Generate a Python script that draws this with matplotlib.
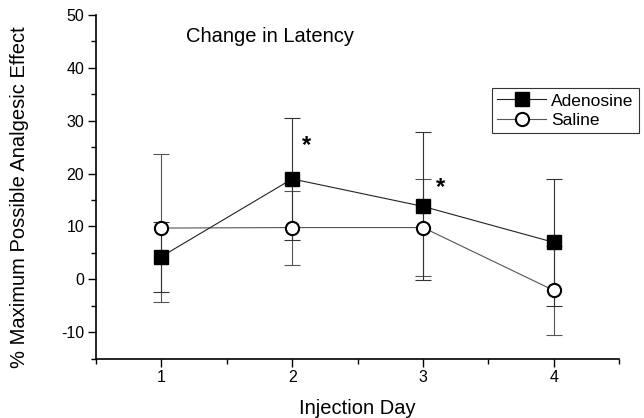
import matplotlib
matplotlib.use("Agg")
import matplotlib.pyplot as plt
from matplotlib.ticker import MultipleLocator

plt.rcParams['font.family'] = ['Liberation Sans', 'DejaVu Sans']
plt.rcParams['axes.unicode_minus'] = False

days = [1, 2, 3, 4]
adenosine = [4.3, 19.0, 13.8, 7.0]
adenosine_err = [6.6, 11.5, 14.0, 12.0]
saline = [9.7, 9.8, 9.8, -2.1]
saline_err = [14.0, 7.0, 9.2, 8.4]
star_x = [2.11, 3.13]
star_y = [25.3, 17.3]

fig = plt.figure(figsize=(6.44, 4.18), dpi=100)
ax = fig.add_axes([0.149, 0.142, 0.8126, 0.822])

ax.errorbar(days, saline, yerr=saline_err, fmt='none', ecolor='#555555',
            elinewidth=0.8, capsize=5.5, capthick=0.8, zorder=1)
ax.errorbar(days, adenosine, yerr=adenosine_err, fmt='none', ecolor='#333333',
            elinewidth=0.8, capsize=5.5, capthick=0.8, zorder=1)
ax.plot(days, saline, '-', color='#555555', lw=0.8, marker='o', ms=9.5,
        mfc='white', mec='black', mew=1.5, label='Saline', zorder=3)
ax.plot(days, adenosine, '-', color='#222222', lw=0.8, marker='s', ms=9.5,
        mfc='black', mec='black', label='Adenosine', zorder=4)

for x, y in zip(star_x, star_y):
    ax.text(x, y, '*', fontsize=17, ha='center', va='center', fontweight='bold')

ax.text(1.19, 45.9, 'Change in Latency', fontsize=14.5, ha='left', va='center')

ax.set_xlim(0.5, 4.5)
ax.set_ylim(-15, 50)
ax.set_xticks(days)
ax.xaxis.set_minor_locator(MultipleLocator(0.5))
ax.yaxis.set_major_locator(MultipleLocator(10))
ax.yaxis.set_minor_locator(MultipleLocator(5))
ax.tick_params(axis='both', which='major', direction='out', length=6, width=1,
               labelsize=11.5, pad=2.5)
ax.tick_params(axis='both', which='minor', direction='out', length=3.5, width=1)
for s in ['top', 'right']:
    ax.spines[s].set_visible(False)
for s in ['left', 'bottom']:
    ax.spines[s].set_linewidth(1.2)

ax.set_xlabel('Injection Day', fontsize=14.5)
ax.xaxis.set_label_coords(0.5, -0.118)
ax.set_ylabel('% Maximum Possible Analgesic Effect', fontsize=14.5)
ax.yaxis.set_label_coords(-0.128, 0.47)

handles, labels = ax.get_legend_handles_labels()
leg = ax.legend(handles[::-1], labels[::-1], loc='upper right',
                bbox_to_anchor=(0.992, 0.789), bbox_transform=fig.transFigure,
                frameon=True, fancybox=False,
                edgecolor='black', fontsize=12.5, handlelength=2.8,
                borderpad=0.3, labelspacing=0.25, handletextpad=0.3,
                borderaxespad=0)
leg.get_frame().set_linewidth(0.8)

fig.savefig('out.png', dpi=100)
